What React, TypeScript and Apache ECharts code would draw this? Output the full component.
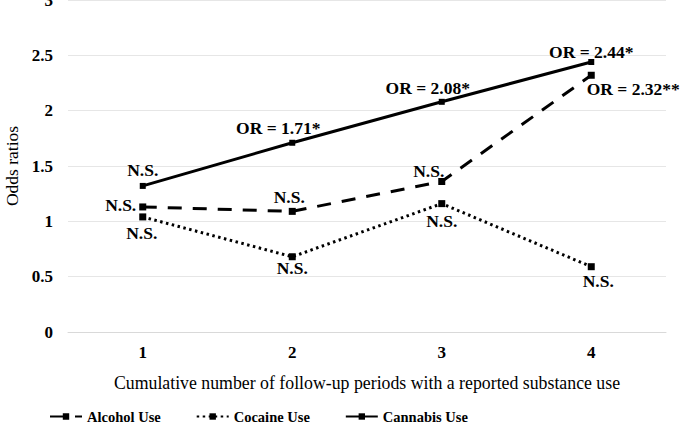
import React, { useEffect, useRef } from "react";
import * as echarts from "echarts";

const periods = ["1", "2", "3", "4"];
const alcohol = [1.13, 1.09, 1.36, 2.32];
const cocaine = [1.04, 0.68, 1.16, 0.59];
const cannabis = [1.32, 1.71, 2.08, 2.44];

const alcoholLabels = ["N.S.", "N.S.", "N.S.", "OR = 2.32**"];
const cocaineLabels = ["N.S.", "N.S.", "N.S.", "N.S."];
const cannabisLabels = ["N.S.", "OR = 1.71*", "OR = 2.08*", "OR = 2.44*"];

const FONT = "Times New Roman";

type Place = { position: string; offset: [number, number] };

const alcoholPlace: Place[] = [
  { position: "left", offset: [0, -2] },
  { position: "top", offset: [-3, 1] },
  { position: "top", offset: [-13, 5] },
  { position: "bottom", offset: [42, -2] },
];
const cocainePlace: Place[] = [
  { position: "bottom", offset: [-1, 1] },
  { position: "bottom", offset: [0, -4] },
  { position: "bottom", offset: [0, 2] },
  { position: "bottom", offset: [7, -1] },
];
const cannabisPlace: Place[] = [
  { position: "top", offset: [0, -1] },
  { position: "top", offset: [-14, 0] },
  { position: "top", offset: [-14, 1] },
  { position: "top", offset: [0, 5] },
];

function withLabels(values: number[], texts: string[], places: Place[]) {
  return values.map((v, i) => ({
    value: v,
    label: {
      show: true,
      formatter: texts[i],
      position: places[i].position,
      offset: places[i].offset,
      color: "#000",
      fontFamily: FONT,
      fontWeight: "bold",
      fontSize: 17.5,
      distance: 3,
    },
  }));
}

export default function App() {
  const ref = useRef<HTMLDivElement>(null);

  useEffect(() => {
    if (!ref.current) return;
    const chart = echarts.init(ref.current, null, { renderer: "svg" });
    chart.setOption({
      animation: false,
      backgroundColor: "#fff",
      textStyle: { fontFamily: FONT },
      grid: { left: 68, right: 15, top: 0, bottom: 111, outerBoundsMode: "none" },
      xAxis: {
        type: "category",
        data: periods,
        boundaryGap: true,
        axisLine: { show: true, lineStyle: { color: "#d9d9d9", width: 1 } },
        axisTick: { show: false },
        axisLabel: {
          color: "#000",
          fontFamily: FONT,
          fontWeight: "bold",
          fontSize: 17,
          margin: 12,
        },
        name: "Cumulative number of follow-up periods with a reported substance use",
        nameLocation: "middle",
        nameGap: 42,
        nameTextStyle: { color: "#000", fontFamily: FONT, fontSize: 17.8 },
      },
      yAxis: {
        type: "value",
        min: 0,
        max: 3,
        interval: 0.5,
        axisLine: { show: false },
        axisTick: { show: false },
        splitLine: { lineStyle: { color: "#e6e6e6", width: 1 } },
        axisLabel: {
          color: "#000",
          fontFamily: FONT,
          fontWeight: "bold",
          fontSize: 17,
          margin: 15,
        },
        name: "Odds ratios",
        nameLocation: "middle",
        nameGap: 46,
        nameTextStyle: { color: "#000", fontFamily: FONT, fontSize: 17.5 },
      },
      legend: {
        bottom: 14,
        left: 44,
        itemWidth: 32,
        itemHeight: 8,
        itemGap: 35,
        textStyle: {
          color: "#000",
          fontFamily: FONT,
          fontWeight: "bold",
          fontSize: 14.5,
        },
        data: ["Alcohol Use", "Cocaine Use", "Cannabis Use"],
      },
      series: [
        {
          name: "Alcohol Use",
          type: "line",
          data: withLabels(alcohol, alcoholLabels, alcoholPlace),
          symbol: "rect",
          symbolSize: 7,
          lineStyle: { color: "#000", width: 3, type: [14, 11] },
          itemStyle: { color: "#000" },
          z: 3,
        },
        {
          name: "Cocaine Use",
          type: "line",
          data: withLabels(cocaine, cocaineLabels, cocainePlace),
          symbol: "rect",
          symbolSize: 7,
          lineStyle: { color: "#000", width: 3, type: [2.5, 3.5] },
          itemStyle: { color: "#000" },
          z: 2,
        },
        {
          name: "Cannabis Use",
          type: "line",
          data: withLabels(cannabis, cannabisLabels, cannabisPlace),
          symbol: "rect",
          symbolSize: 6,
          lineStyle: { color: "#000", width: 3, type: "solid" },
          itemStyle: { color: "#000" },
          z: 4,
        },
      ],
    });
    return () => chart.dispose();
  }, []);

  return (
    <div
      ref={ref}
      style={{ position: "fixed", left: 0, top: 0, width: 681, height: 443 }}
    />
  );
}
